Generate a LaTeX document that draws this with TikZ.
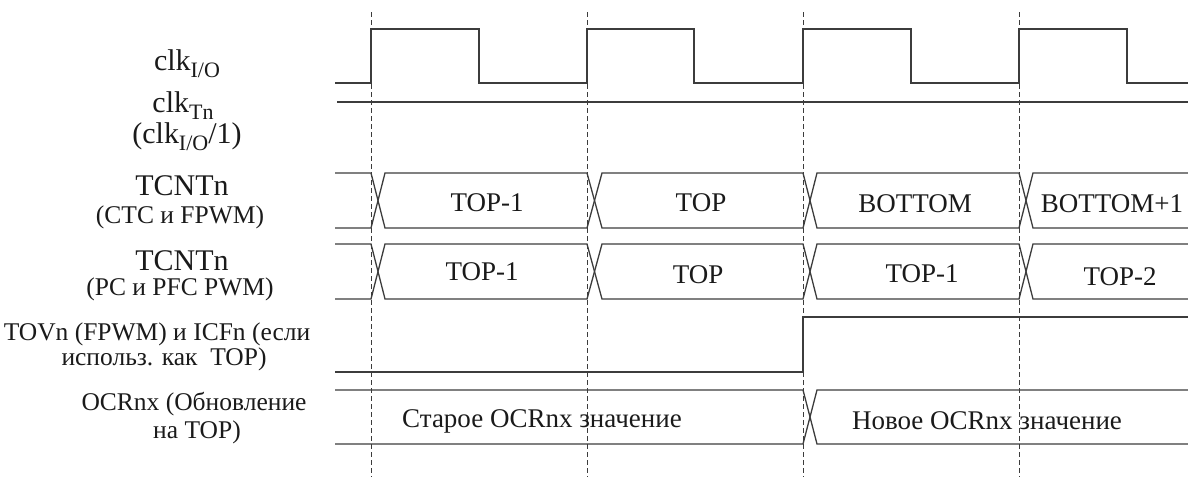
\documentclass[tikz,border=0pt]{standalone}
\usepackage{fontspec}
\setmainfont{Liberation Serif}
\definecolor{wire}{HTML}{3C3C3C}
\definecolor{ink}{HTML}{1A1A1A}
\newcommand{\lowsub}[1]{\raisebox{-7pt}{\fontsize{22}{22}\selectfont #1}}
\begin{document}
\begin{tikzpicture}[x=1pt,y=-1pt,line width=1.3pt,
wave/.style={draw=wire,line join=miter},
grid/.style={draw=wire,line width=0.9pt,dash pattern=on 5pt off 3pt},
sig/.style={text=ink,anchor=base,inner sep=0pt,font=\fontsize{25.5}{28}\selectfont},
big/.style={sig,font=\fontsize{30}{32}\selectfont},
val/.style={sig,font=\fontsize{27}{30}\selectfont}]
\useasboundingbox(0,0)rectangle(1188,477);
\foreach \t in {371,587,803,1019}\draw[grid](\t,12)--(\t,477);
\draw[wave](335,83)foreach \a/\b in {371/479,587/694,803/911,1019/1127}{--(\a,83)--(\a,29)--(\b,29)--(\b,83)}--(1188,83);
\draw[wave](337,102)--(1188,102);
\foreach \u/\l in {173/228,244/299}{
\draw[wave](335,\u)--(371,\u)--(385,\l)--(587,\l)--(602,\u)--(803,\u)--(817,\l)--(1019,\l)--(1033,\u)--(1188,\u);
\draw[wave](335,\l)--(371,\l)--(385,\u)--(587,\u)--(602,\l)--(803,\l)--(817,\u)--(1019,\u)--(1033,\l)--(1188,\l);}
\draw[wave](335,372)--(803,372)--(803,317)--(1188,317);
\draw[wave](335,390)--(803,390)--(817,444)--(1188,444);
\draw[wave](335,444)--(803,444)--(817,390)--(1188,390);
\node[big](clkio)at(187,70){clk\lowsub{I/O}};
\node[big](clktn)at(183,112){clk\lowsub{Tn}};
\node[big](clkdiv)at(187,143){(clk\lowsub{I/O}/1)};
\node[big](cnta)at(182,195){TCNTn};
\node[sig](cntamode)at(180,223){(CTC и FPWM)};
\node[big](cntb)at(182,270){TCNTn};
\node[sig](cntbmode)at(180,295){(PC и PFC PWM)};
\node[sig](tov)at(157,340){TOVn (FPWM) и ICFn (если};
\node[sig](tovb)at(164,365){использ. как~ TOP)};
\node[sig](ocr)at(194,410){OCRnx (Обновление};
\node[sig](ocrb)at(197,438){на TOP)};
\node[val](aone)at(487,211){TOP-1};
\node[val](atwo)at(701,211){TOP};
\node[val](athree)at(915,212){BOTTOM};
\node[val](afour)at(1112,212){BOTTOM+1};
\node[val](bone)at(482,280){TOP-1};
\node[val](btwo)at(698,283){TOP};
\node[val](bthree)at(922,282){TOP-1};
\node[val](bfour)at(1120,285){TOP-2};
\node[val](oldval)at(542,427){Старое OCRnx значение};
\node[val](newval)at(987,429){Новое OCRnx значение};
\end{tikzpicture}
\end{document}
